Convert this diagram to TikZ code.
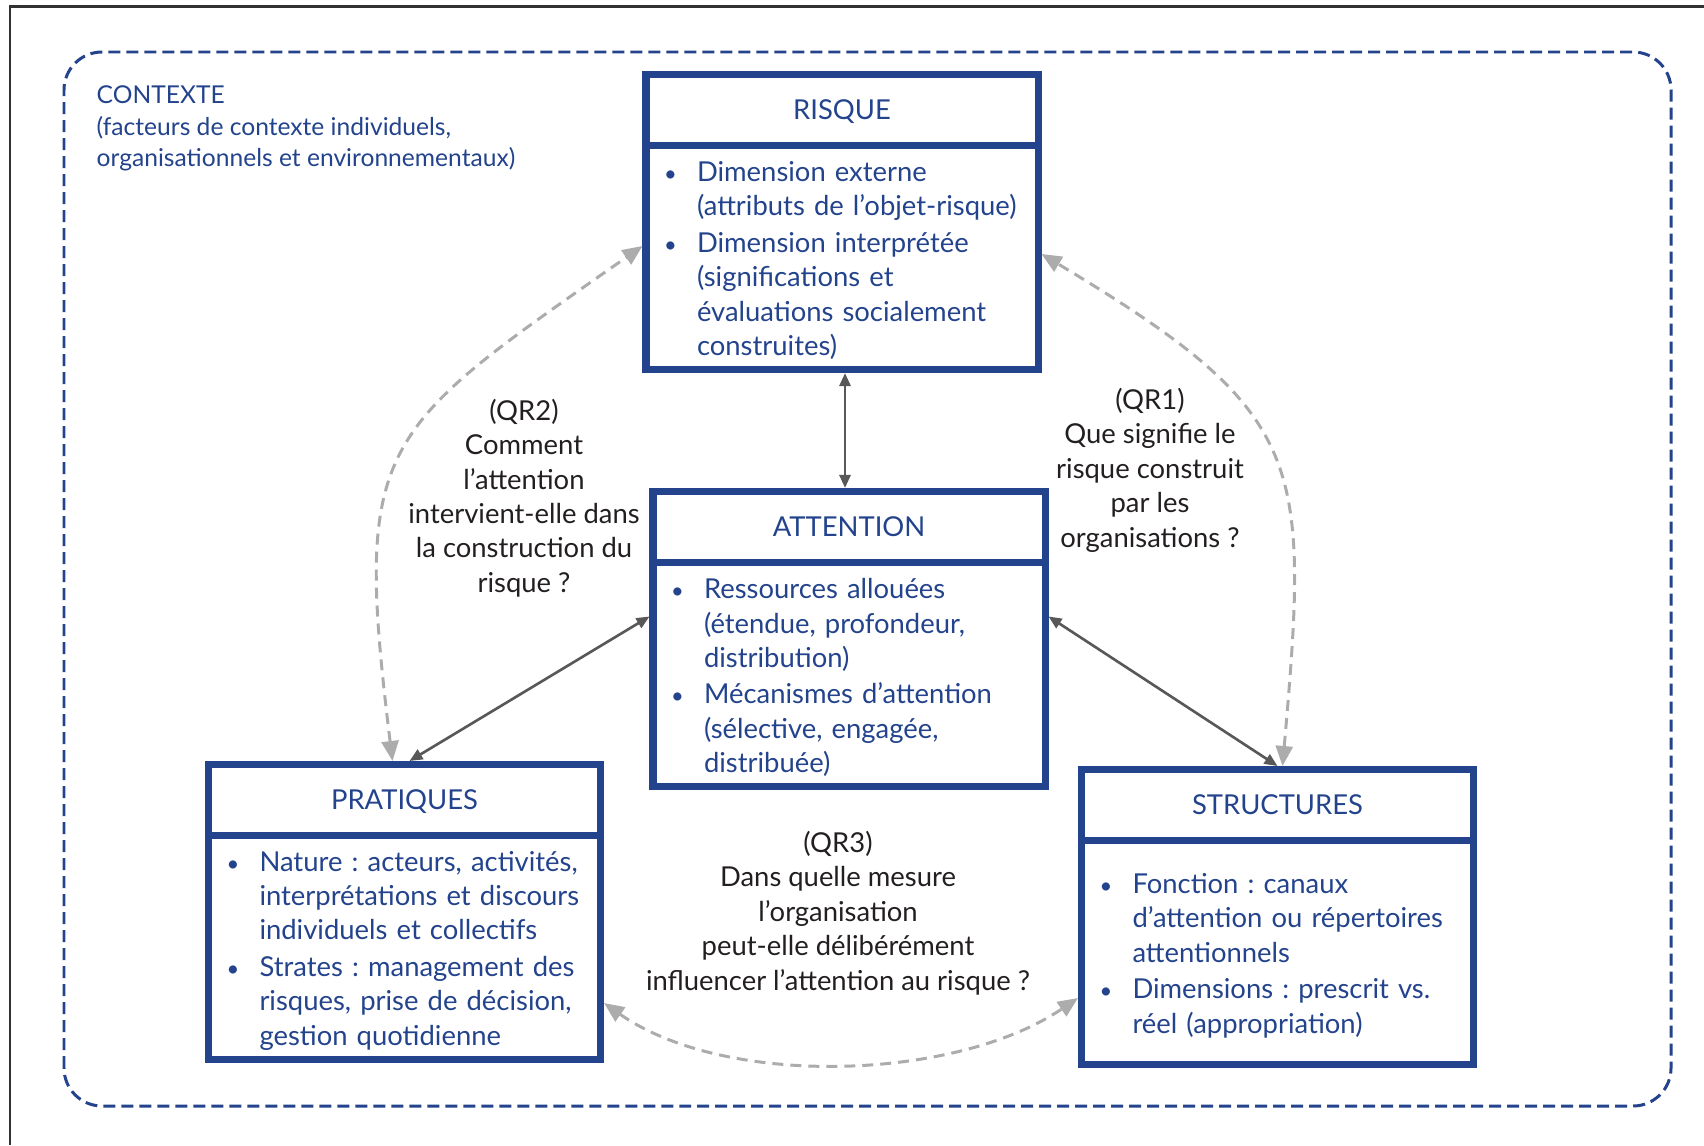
\documentclass[tikz,border=0pt]{standalone}
\usepackage{fontspec}
\setmainfont{Lato}
\usetikzlibrary{arrows.meta,positioning}

\definecolor{bleu}{RGB}{35,67,140}
\definecolor{gristrait}{RGB}{88,88,88}
\definecolor{grisclair}{RGB}{172,172,172}
\definecolor{encre}{RGB}{35,31,32}
\definecolor{cadre}{RGB}{50,50,50}

% puces des listes dans les cadres
\newlength{\pucew}\setlength{\pucew}{0.34cm}
\newcommand{\puce}{\par\leftskip=\pucew\noindent\hspace*{-\pucew}%
  \makebox[\pucew][l]{\hspace{0.01cm}\scalebox{0.8}{\textbullet}}}
\newcommand{\pucesuite}{\par\vspace{0.6pt}\puce}
\newcommand{\finbloc}{\par\vspace{0.08cm}}

\begin{document}
\frenchspacing
\begin{tikzpicture}[
  font=\fontsize{7.8}{9.8}\selectfont\frenchspacing,
  titre/.style={draw=bleu, line width=2pt, text=bleu, outer sep=1pt, inner sep=0pt,
    minimum width=3.92cm, minimum height=0.71cm, text height=5.6pt, text depth=0pt},
  corps/.style={draw=bleu, line width=2pt, text=bleu, outer sep=1pt,
    minimum width=3.92cm, minimum height=2.24cm, text width=3.58cm, align=left,
    inner xsep=0.17cm, inner ysep=0pt},
  question/.style={text=encre, align=center, inner sep=0pt},
  lien/.style={gristrait, line width=0.75pt,
    {Triangle[length=0.13cm,width=0.11cm]}-{Triangle[length=0.13cm,width=0.11cm]}},
  lecture/.style={grisclair, line width=0.85pt, dash pattern=on 0.11cm off 0.07cm,
    {Triangle[length=0.2cm,width=0.17cm]}-{Triangle[length=0.2cm,width=0.17cm]}}
]
  \useasboundingbox (0,0) rectangle (17.04,11.45);

  % Cadre de la figure
  \draw[cadre, line width=0.8pt] (0.10,0) -- (0.10,11.385) -- (17.04,11.385);

  % Contexte
  \draw[bleu, line width=0.85pt, dash pattern=on 0.12cm off 0.06cm, rounded corners=0.38cm]
    (0.64,0.39) rectangle (16.71,10.93);
  \node[anchor=north west, text=bleu, align=left, inner sep=0pt,
    font=\fontsize{7.0}{9.0}\selectfont] (contexte) at (0.96,10.60)
    {CONTEXTE\\(facteurs de contexte individuels,\\organisationnels et environnementaux)};

  % Risque
  \node[titre] (risque) at (8.42,10.35) {RISQUE};
  \node[corps, below=-2pt of risque] (risqueC)
    {\puce Dimension externe\\(attributs de l’objet-risque)
     \pucesuite Dimension interprétée\\(significations et\\évaluations socialement\\construites)\finbloc};

  % Attention
  \node[titre] (attention) at (8.49,6.18) {ATTENTION};
  \node[corps, below=-2pt of attention] (attentionC)
    {\puce Ressources allouées\\(étendue, profondeur,\\distribution)
     \pucesuite Mécanismes d’attention\\(sélective, engagée,\\distribuée)\finbloc};

  % Pratiques
  \node[titre] (pratiques) at (4.045,3.45) {PRATIQUES};
  \node[corps, below=-2pt of pratiques] (pratiquesC)
    {\puce Nature : acteurs, activités,\\interprétations et discours\\individuels et collectifs
     \pucesuite Strates : management des\\risques, prise de décision,\\gestion quotidienne\finbloc};

  % Structures
  \node[titre] (structures) at (12.775,3.40) {STRUCTURES};
  \node[corps, below=-2pt of structures] (structuresC)
    {\puce Fonction : canaux\\d’attention ou répertoires\\attentionnels
     \pucesuite Dimensions : prescrit vs.\\réel (appropriation)\finbloc};

  % Questions de recherche
  \node[question] (qr2) at (5.24,6.47)
    {(QR2)\\Comment\\l’attention\\intervient-elle dans\\la construction du\\risque ?};
  \node[question] (qr1) at (11.50,6.75)
    {(QR1)\\Que signifie le\\risque construit\\par les\\organisations ?};
  \node[question] (qr3) at (8.38,2.32)
    {(QR3)\\Dans quelle mesure\\l’organisation\\peut-elle délibérément\\influencer l’attention au risque ?};

  % Liens entre les cadres
  \draw[lien] ([xshift=0.03cm]risqueC.south) -- ([xshift=0.03cm]risqueC.south |- attention.north);
  \draw[lien] ([yshift=-0.575cm]attentionC.north west) -- ([xshift=0.05cm]pratiques.north);
  \draw[lien] ([yshift=-0.575cm]attentionC.north east) -- (structures.north);

  % Arcs des questions
  \draw[lecture] ([xshift=-0.12cm]pratiques.north) to[out=97, in=215, looseness=1.45]
    ([yshift=-1.04cm]risqueC.north west);
  \draw[lecture] ([xshift=0.05cm]structures.north) to[out=85, in=-31, looseness=1.4]
    ([yshift=-1.12cm]risqueC.north east);
  \draw[lecture] ([yshift=0.60cm]pratiquesC.south east) to[out=-35, in=-146, looseness=0.8]
    ([yshift=0.70cm]structuresC.south west);
\end{tikzpicture}
\end{document}
